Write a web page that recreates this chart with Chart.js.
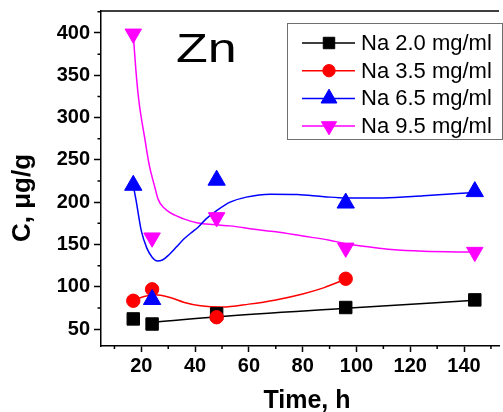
<!DOCTYPE html>
<html>
<head>
<meta charset="utf-8">
<script src="https://cdn.jsdelivr.net/npm/chart.js@4.4.1/dist/chart.umd.min.js"></script>
<style>
html, body { margin: 0; padding: 0; background: #fff; overflow: hidden; }
#wrap { position: relative; width: 510px; height: 412px; }
</style>
</head>
<body>
<div id="wrap"><canvas id="chart"></canvas></div>
<script>
const times = [17, 24, 48, 96, 144];
const na20 = [62, 56, 68, 75.5, 84.5];
const na35 = [83.5, 97, 64, 109.5];
const na65 = [220, 85, 226, 199, 212.5];
const na95 = [399, 158, 182, 146, 141];

// fitted curves
const fit20x = [24, 48, 96, 144];
const fit20y = [58, 64.5, 74.5, 84];
const fit35x = [17, 21, 25, 30, 36, 42, 50, 60, 70, 80, 88, 96];
const fit35y = [84, 88.5, 90.5, 88, 81.5, 77.5, 76, 79.5, 84.5, 91.5, 99, 109];
const fit65x = [17, 18, 20, 22, 24, 26, 28, 30, 33, 36, 39, 41, 44, 48, 53, 59, 68, 78, 88, 96, 110, 125, 144];
const fit65y = [220, 203, 166, 146, 135, 130.5, 132, 137, 147, 157, 165, 170, 180, 190, 200, 206, 209.5, 209, 206.5, 205, 205, 207.5, 211.5];
const fit95x = [17, 18, 19, 21.4, 23, 25, 26.3, 28.5, 31, 36, 41, 47, 53, 62, 70, 80, 90, 96, 105, 113, 125, 144];
const fit95y = [398, 355, 322, 273, 243, 218, 203, 193, 187, 180, 175.5, 173.5, 172, 168, 165, 160, 155, 151, 147, 144, 142, 141];

const seriesNames = ['Na 2.0 mg/ml', 'Na 3.5 mg/ml', 'Na 6.5 mg/ml', 'Na 9.5 mg/ml'];
const colors = ['#000000', '#ff0000', '#0000ff', '#ff00ff'];
const markers = ['rect', 'circle', 'triangle', 'triangle'];
const markerRot = [0, 0, 0, 180];
const markerSize = [8.8, 6.7, 10, 9.5];

const pointSets = [na20, na35, na65, na95];
const fits = [[fit20x, fit20y], [fit35x, fit35y], [fit65x, fit65y], [fit95x, fit95y]];

const toPts = (xs, ys) => ys.map((y, i) => ({ x: xs[i], y: y }));

const datasets = [];
// markers first so they sit on top; last series on top
[3, 2, 1, 0].forEach(i => {
    datasets.push({
        label: seriesNames[i],
        data: toPts(times, pointSets[i]),
        showLine: false,
        pointStyle: markers[i],
        rotation: markerRot[i],
        pointRadius: markerSize[i],
        backgroundColor: colors[i],
        borderColor: colors[i],
        borderWidth: 1
    });
});
[0, 1, 2, 3].forEach(i => {
    datasets.push({
        label: seriesNames[i] + ' fit',
        data: toPts(fits[i][0], fits[i][1]),
        showLine: true,
        pointRadius: 0,
        borderColor: colors[i],
        borderWidth: 1.5,
        cubicInterpolationMode: 'monotone',
        fill: false
    });
});

const extras = {
    id: 'extras',
    afterDraw(chart) {
        const ctx = chart.ctx;
        const ca = chart.chartArea;
        const xs = chart.scales.x, ys = chart.scales.y;
        ctx.save();
        ctx.strokeStyle = '#000';
        ctx.lineWidth = 1.5;
        // top frame line
        ctx.beginPath();
        ctx.moveTo(ca.left, ca.top);
        ctx.lineTo(ca.right, ca.top);
        ctx.stroke();
        // minor ticks
        ctx.beginPath();
        for (let v = 10; v <= xs.max; v += 20) {
            if (v < xs.min) continue;
            const px = xs.getPixelForValue(v);
            ctx.moveTo(px, ca.bottom);
            ctx.lineTo(px, ca.bottom + 3);
        }
        for (let v = 75; v <= ys.max; v += 50) {
            const py = ys.getPixelForValue(v);
            ctx.moveTo(ca.left, py);
            ctx.lineTo(ca.left - 3.5, py);
        }
        ctx.stroke();

        // Zn label
        ctx.fillStyle = '#000';
        ctx.textBaseline = 'alphabetic';
        ctx.font = '40px "Liberation Sans", Arial, sans-serif';
        ctx.save();
        ctx.translate(176, 62);
        ctx.scale(1.3, 1);
        ctx.fillText('Zn', 0, 0);
        ctx.restore();

        // axis titles
        ctx.font = 'bold 25px "Liberation Sans", Arial, sans-serif';
        ctx.textAlign = 'center';
        ctx.fillText('Time, h', 307, 408);
        ctx.save();
        ctx.translate(30, 198);
        ctx.rotate(-Math.PI / 2);
        ctx.font = 'bold 26px "Liberation Sans", Arial, sans-serif';
        ctx.fillText('C, \u03bcg/g', 0, 0);
        ctx.restore();

        // legend
        ctx.fillStyle = '#fff';
        ctx.fillRect(287.5, 23.5, 215, 116);
        ctx.strokeStyle = '#707070';
        ctx.lineWidth = 1;
        ctx.strokeRect(287.5, 23.5, 215, 116);
        ctx.textAlign = 'left';
        ctx.textBaseline = 'middle';
        ctx.font = '22px "Liberation Sans", Arial, sans-serif';
        seriesNames.forEach((name, i) => {
            const y = 43 + i * 27.7;
            ctx.strokeStyle = colors[i];
            ctx.fillStyle = colors[i];
            ctx.lineWidth = 1.5;
            ctx.beginPath();
            ctx.moveTo(302, y);
            ctx.lineTo(355, y);
            ctx.stroke();
            ctx.lineWidth = 1;
            Chart.helpers.drawPoint(ctx, {
                pointStyle: markers[i],
                rotation: markerRot[i],
                radius: markerSize[i] * 0.92,
                borderWidth: 1
            }, 329, y);
            ctx.fillStyle = '#000';
            ctx.fillText(name, 361, y + 1);
        });
        ctx.restore();
    }
};

const tickFont = { family: '"Liberation Sans", Arial, sans-serif', size: 20, weight: 'bold' };

new Chart(document.getElementById('chart'), {
    type: 'scatter',
    data: { datasets: datasets },
    options: {
        responsive: true,
        maintainAspectRatio: false,
        animation: false,
        layout: { padding: { top: 11, right: 3, left: 0, bottom: 0 } },
        plugins: {
            legend: { display: false },
            tooltip: { enabled: false }
        },
        scales: {
            x: {
                type: 'linear',
                min: 5,
                max: 153,
                afterFit(scale) {
                    scale.height = 66;
                    scale.paddingLeft = 0;
                    scale.paddingRight = 0;
                },
                ticks: {
                    stepSize: 20,
                    includeBounds: false,
                    color: '#000',
                    font: tickFont,
                    padding: 2,
                    maxRotation: 0
                },
                grid: {
                    drawOnChartArea: false,
                    tickLength: 6,
                    tickWidth: 1.5,
                    tickColor: '#000'
                },
                border: { color: '#000', width: 1.5 }
            },
            y: {
                type: 'linear',
                min: 30,
                max: 426,
                afterFit(scale) {
                    scale.width = 101;
                    scale.paddingTop = 0;
                    scale.paddingBottom = 0;
                },
                ticks: {
                    stepSize: 50,
                    includeBounds: false,
                    color: '#000',
                    font: tickFont,
                    padding: 4
                },
                grid: {
                    drawOnChartArea: false,
                    tickLength: 7,
                    tickWidth: 1.5,
                    tickColor: '#000'
                },
                border: { color: '#000', width: 1.5 }
            }
        }
    },
    plugins: [extras]
});
</script>
</body>
</html>
